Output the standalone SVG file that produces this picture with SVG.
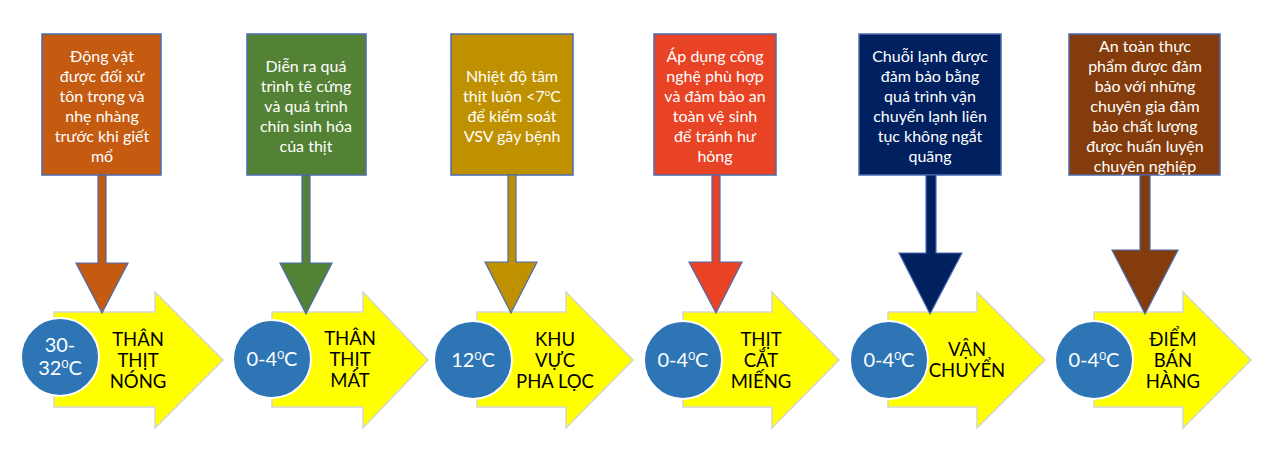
<svg xmlns="http://www.w3.org/2000/svg" width="1280" height="454" viewBox="0 0 1280 454">
<style>
.box{stroke:#4a6bb0;stroke-width:1.5}
.bt{font-family:Lato,"Liberation Sans",sans-serif;font-size:16px;fill:#ffffff;text-anchor:middle}
.ya{fill:#ffff00;stroke:#d6d6c8;stroke-width:1.5}
.ci{fill:#2e75b6;stroke:#ffffff;stroke-width:2}
.ct{font-family:Lato,"Liberation Sans",sans-serif;font-size:20px;fill:#ffffff;text-anchor:middle}
.yt{font-family:Lato,"Liberation Sans",sans-serif;font-size:18.5px;fill:#000000;text-anchor:middle}
.sup{font-size:12px}
.da{stroke:#4a6bb0;stroke-width:1.2;stroke-linejoin:miter}
</style>
<rect width="1280" height="454" fill="#ffffff"/>

<g id="stage1">
<polygon class="ya" points="54,312 155,312 155,292 223,360 155,428 155,407 54,407"/>
<circle class="ci" cx="60" cy="357" r="39"/>
<text class="ct" x="60" y="352">30-</text>
<text class="ct" x="60" y="375">32<tspan class="sup" dy="-7">0</tspan><tspan dy="7">C</tspan></text>
<text class="yt" x="138" y="346">THÂN</text>
<text class="yt" x="138" y="367">THỊT</text>
<text class="yt" x="138" y="388">NÓNG</text>
</g>
<g id="stage2">
<polygon class="ya" points="272,312 363,312 363,292 428,360 363,428 363,407 272,407"/>
<circle class="ci" cx="272" cy="359" r="39"/>
<text class="ct" x="272" y="366">0-4<tspan class="sup" dy="-7">0</tspan><tspan dy="7">C</tspan></text>
<text class="yt" x="350" y="345">THÂN</text>
<text class="yt" x="350" y="366">THỊT</text>
<text class="yt" x="350" y="387">MÁT</text>
</g>
<g id="stage3">
<polygon class="ya" points="477,312 566,312 566,292 633,360 566,428 566,407 477,407"/>
<circle class="ci" cx="473" cy="360" r="39"/>
<text class="ct" x="473" y="367">12<tspan class="sup" dy="-7">0</tspan><tspan dy="7">C</tspan></text>
<text class="yt" x="555" y="346">KHU</text>
<text class="yt" x="555" y="367">VỰC</text>
<text class="yt" x="555" y="388">PHA LỌC</text>
</g>
<g id="stage4">
<polygon class="ya" points="683,312 772,312 772,292 839,360 772,428 772,407 683,407"/>
<circle class="ci" cx="683" cy="360" r="39"/>
<text class="ct" x="683" y="367">0-4<tspan class="sup" dy="-7">0</tspan><tspan dy="7">C</tspan></text>
<text class="yt" x="761" y="346">THỊT</text>
<text class="yt" x="761" y="367">CẮT</text>
<text class="yt" x="761" y="388">MIẾNG</text>
</g>
<g id="stage5">
<polygon class="ya" points="888,312 977,312 977,292 1045,360 977,428 977,407 888,407"/>
<circle class="ci" cx="889" cy="360" r="39"/>
<text class="ct" x="889" y="367">0-4<tspan class="sup" dy="-7">0</tspan><tspan dy="7">C</tspan></text>
<text class="yt" x="967" y="356">VẬN</text>
<text class="yt" x="967" y="377">CHUYỂN</text>
</g>
<g id="stage6">
<polygon class="ya" points="1094,312 1183,312 1183,292 1251,360 1183,428 1183,407 1094,407"/>
<circle class="ci" cx="1094" cy="360" r="39"/>
<text class="ct" x="1094" y="367">0-4<tspan class="sup" dy="-7">0</tspan><tspan dy="7">C</tspan></text>
<text class="yt" x="1173" y="346">ĐIỂM</text>
<text class="yt" x="1173" y="367">BÁN</text>
<text class="yt" x="1173" y="388">HÀNG</text>
</g>

<g id="note1">
<rect class="box" x="42" y="34" width="119" height="141" fill="#c55a11"/>
<text class="bt" x="102" y="62">Động vật</text>
<text class="bt" x="102" y="82">được đối xử</text>
<text class="bt" x="102" y="102">tôn trọng và</text>
<text class="bt" x="102" y="122">nhẹ nhàng</text>
<text class="bt" x="102" y="142">trước khi giết</text>
<text class="bt" x="102" y="162">mổ</text>
</g>
<g id="note2">
<rect class="box" x="247" y="34" width="119" height="141" fill="#548235"/>
<text class="bt" x="306" y="72">Diễn ra quá</text>
<text class="bt" x="306" y="92">trình tê cứng</text>
<text class="bt" x="306" y="112">và quá trình</text>
<text class="bt" x="306" y="132">chín sinh hóa</text>
<text class="bt" x="306" y="152">của thịt</text>
</g>
<g id="note3">
<rect class="box" x="451" y="34" width="122" height="141" fill="#bf9000"/>
<text class="bt" x="512" y="82">Nhiệt độ tâm</text>
<text class="bt" x="512" y="102">thịt luôn &lt;7<tspan font-size="10px" dy="-6">o</tspan><tspan dy="6">C</tspan></text>
<text class="bt" x="512" y="122">để kiểm soát</text>
<text class="bt" x="512" y="142">VSV gây bệnh</text>
</g>
<g id="note4">
<rect class="box" x="654" y="34" width="122" height="141" fill="#e84324"/>
<text class="bt" x="715" y="62">Áp dụng công</text>
<text class="bt" x="715" y="82">nghệ phù hợp</text>
<text class="bt" x="715" y="102">và đảm bảo an</text>
<text class="bt" x="715" y="122">toàn vệ sinh</text>
<text class="bt" x="715" y="142">để tránh hư</text>
<text class="bt" x="715" y="162">hỏng</text>
</g>
<g id="note5">
<rect class="box" x="859" y="34" width="142" height="141" fill="#002060"/>
<text class="bt" x="930" y="62">Chuỗi lạnh được</text>
<text class="bt" x="930" y="82">đảm bảo bằng</text>
<text class="bt" x="930" y="102">quá trình vận</text>
<text class="bt" x="930" y="122">chuyển lạnh liên</text>
<text class="bt" x="930" y="142">tục không ngắt</text>
<text class="bt" x="930" y="162">quãng</text>
</g>
<g id="note6">
<rect class="box" x="1069" y="34" width="151" height="141" fill="#843c0c"/>
<text class="bt" x="1145" y="52">An toàn thực</text>
<text class="bt" x="1145" y="72">phẩm được đảm</text>
<text class="bt" x="1145" y="92">bảo với những</text>
<text class="bt" x="1145" y="112">chuyên gia đảm</text>
<text class="bt" x="1145" y="132">bảo chất lượng</text>
<text class="bt" x="1145" y="152">được huấn luyện</text>
<text class="bt" x="1145" y="172">chuyên nghiệp</text>
</g>

<g id="connectors">
<polygon class="da" fill="#c55a11" points="98,175 106,175 106,263 128,263 102,313 76,263 98,263"/>
<polygon class="da" fill="#548235" points="302,175 310,175 310,263 332,263 306,314 280,263 302,263"/>
<polygon class="da" fill="#bf9000" points="508,175 516,175 516,262 537,262 511,313 485,262 508,262"/>
<polygon class="da" fill="#e84324" points="712,175 720,175 720,262 742,262 716,313 689,262 712,262"/>
<polygon class="da" fill="#002060" points="926,175 936,175 936,253 962,253 930,314 899,253 926,253"/>
<polygon class="da" fill="#843c0c" points="1140,175 1150,175 1150,250 1178,250 1145,314 1112,250 1140,250"/>
</g>
</svg>
